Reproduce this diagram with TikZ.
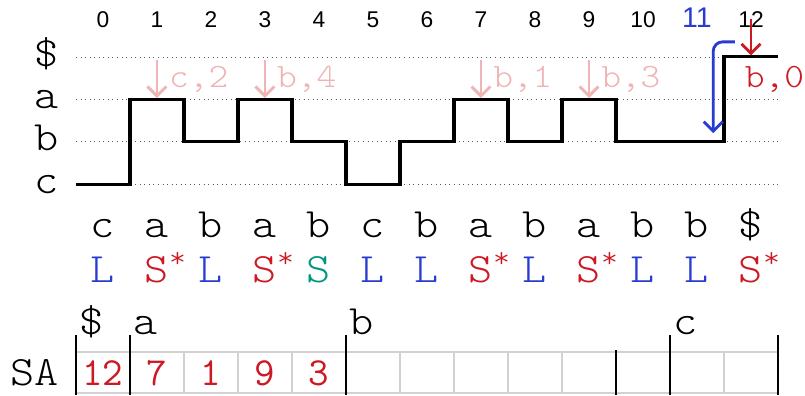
\documentclass[tikz,border=0pt]{standalone}
\usepackage{fontspec}
\setmainfont{Liberation Sans}
\newfontfamily\cour{lmmonolt10-regular.otf}[FakeStretch=1.1]
\usetikzlibrary{arrows.meta,positioning,calc}
\definecolor{sred}{RGB}{205,25,35}
\definecolor{lblue}{RGB}{40,60,210}
\definecolor{steal}{RGB}{0,150,130}
\definecolor{lpink}{RGB}{240,180,180}
\newcommand{\tL}{\textcolor{lblue}{L}}
\newcommand{\tS}{\textcolor{steal}{S}}
\newcommand{\tSs}{\textcolor{sred}{S\rlap{\textsuperscript{*}}}}

\begin{document}
\begin{tikzpicture}[>={Straight Barb[length=5pt,width=10pt]}, every node/.style={inner sep=0pt},
  big/.style={font=\cour\fontsize{22}{22}\selectfont, anchor=base},
  mono/.style={font=\cour\fontsize{18}{18}\selectfont, anchor=base},
  idx/.style={font=\fontsize{12}{12}\selectfont, anchor=base},
  bar/.style={line width=1.3pt},
  hit/.style={->, line width=1.5pt}]
\useasboundingbox (-1.907,0) rectangle (13.0,7.315);
% alphabet levels
\foreach \n/\c/\y in {d/\$/6.26, a/a/5.47, b/b/4.69, c/c/3.90} { \node[big] (lv\n) at (-1.04,\y-0.17) {\c}; \draw[dotted, gray!70!black] (-0.5,\y) -- (12.5,\y); }
\foreach \i in {0,...,10,12} \node[idx] (ix\i) at (\i,6.80) {\i};
\node[idx, font=\fontsize{15}{15}\selectfont, text=lblue] (ix11) at (11,6.80) {11};
% text as a step line
\draw[line width=1.6pt] (-0.5,3.90) \foreach \i/\y in {0/3.90,1/5.47,2/4.69,3/5.47,4/4.69,5/3.90,6/4.69,7/5.47,8/4.69,9/5.47,10/4.69,11/4.69,12/6.26} { -- ({\i-0.5},\y) -- ({\i+0.5},\y) };
\foreach \i/\ch/\ty in {0/c/\tL,1/a/\tSs,2/b/\tL,3/a/\tSs,4/b/\tS,5/c/\tL,6/b/\tL,7/a/\tSs,8/b/\tL,9/a/\tSs,10/b/\tL,11/b/\tL,12/\$/\tSs} { \node[big] (ch\i) at (\i,2.91) {\ch}; \node[big] (ty\i) at (\i,2.09) {\ty}; }
% induced sorting
\foreach \i/\t in {1/{c,2},3/{b,4},7/{b,1},9/{b,3}} { \coordinate (top\i) at (\i,6.20); \coordinate (hit\i) at (\i,5.50); \draw[hit, lpink] (top\i) -- (hit\i); \node[mono, text=lpink, anchor=base west] (lb\i) at (\i+0.22,5.70) {\t}; }
\coordinate (top12) at (12,6.96); \coordinate (hit12) at (12,6.29);
\draw[hit, sred] (top12) -- (hit12);
\node[mono, text=sred, anchor=base west] (lb12) at (11.88,5.69) {b,0};
\coordinate (from11) at (11.7,6.54); \coordinate (to11) at (11.3,4.85);
\draw[hit, lblue, rounded corners=5pt] (from11) -| (to11);
% suffix array with buckets
\node[big] (sa) at (-1.27,0.185) {SA};
\foreach \i in {0,...,12} \draw[gray!35, line width=0.8pt] ({\i-0.5},0.04) rectangle ({\i+0.5},0.80);
\foreach \i/\v in {0/12,1/7,2/1,3/9,4/3} \node[font=\ttfamily\fontsize{21}{21}\selectfont, anchor=base, text=sred] (sa\i) at (\i,0.185) {\v};
\foreach \x in {-0.5,0.5,4.5,10.5,12.5} \draw[bar] (\x,0) -- (\x,1.11);
\draw[bar] (9.5,0) -- (9.5,0.83);
\foreach \n/\c/\x in {d/\$/-0.5, a/a/0.5, b/b/4.5, c/c/10.5} \node[big, anchor=base west] (bk\n) at (\x+0.06,1.12) {\c};
\end{tikzpicture}
\end{document}
